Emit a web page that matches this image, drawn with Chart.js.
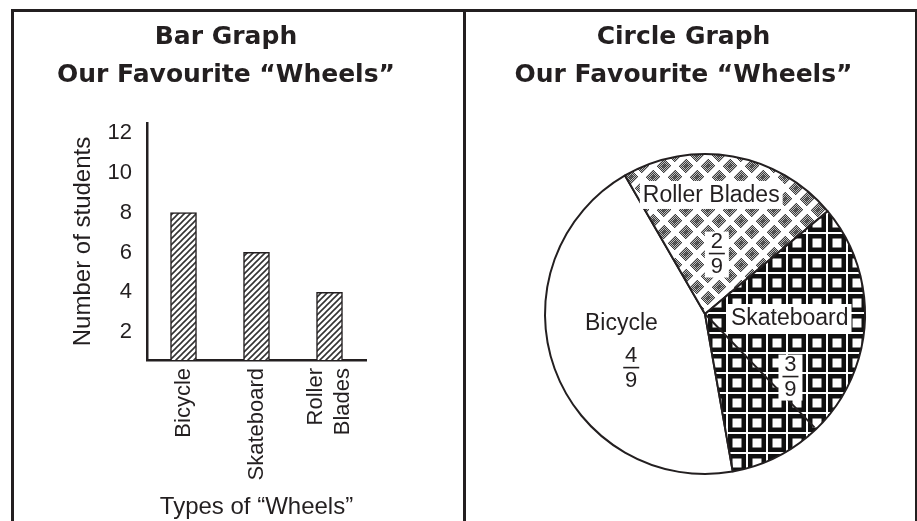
<!DOCTYPE html>
<html><head><meta charset="utf-8">
<script src="https://cdn.jsdelivr.net/npm/chart.js@4.4.1/dist/chart.umd.min.js"></script>
<style>
html,body{margin:0;padding:0;background:#fff;width:917px;height:521px;overflow:hidden;}
#frame{position:absolute;left:11px;top:9px;width:901px;height:520px;border-left:3px solid #231f20;border-top:3px solid #231f20;border-right:2px solid #231f20;}
#divider{position:absolute;left:463px;top:9px;width:3px;height:512px;background:#231f20;}
#left{position:absolute;left:14px;top:12px;}
#right{position:absolute;left:466px;top:12px;}
</style></head>
<body>
<div id="frame"></div>
<div id="divider"></div>
<canvas id="left" width="449" height="509"></canvas>
<canvas id="right" width="449" height="509"></canvas>
<script>
// ---- data ----
const categories = ['Bicycle', 'Skateboard', 'Roller Blades'];
const students = [8, 6, 4];
const yTicks = [2, 4, 6, 8, 10, 12];
const pieCategories = ['Bicycle', 'Roller Blades', 'Skateboard'];
const pieValues = [4, 2, 3];
const barTitle = ['Bar Graph', 'Our Favourite \u201CWheels\u201D'];
const pieTitle = ['Circle Graph', 'Our Favourite \u201CWheels\u201D'];
const xTitle = 'Types of \u201CWheels\u201D';
const yTitle = 'Number of students';

// ---- styles ----
const INK = '#231f20';
const SANS = '"Liberation Sans", Arial, Helvetica, sans-serif';
const TITLE_FONT = {family: '"DejaVu Sans", sans-serif', size: 25, weight: 'bold', lineHeight: 38/25};

function hatchPattern(){
  const c = document.createElement('canvas'); c.width = 6; c.height = 6;
  const g = c.getContext('2d');
  g.fillStyle = '#fff'; g.fillRect(0,0,6,6);
  g.strokeStyle = '#333'; g.lineWidth = 1.6;
  g.beginPath();
  g.moveTo(-3,9); g.lineTo(9,-3);
  g.moveTo(-3,3); g.lineTo(3,-3);
  g.moveTo(3,9); g.lineTo(9,3);
  g.stroke();
  return g.createPattern(c, 'repeat');
}
function gridPattern(){
  const s = 20;
  const c = document.createElement('canvas'); c.width = s; c.height = s;
  const g = c.getContext('2d');
  g.fillStyle = '#fff'; g.fillRect(0,0,s,s);
  g.fillStyle = '#111'; g.fillRect(2,2,18,18);
  g.fillStyle = '#fff'; g.fillRect(6.5,6.5,9,9);
  return g.createPattern(c, 'repeat');
}
function diamondPattern(){
  const s = 22;
  const c = document.createElement('canvas'); c.width = s; c.height = s;
  const g = c.getContext('2d');
  const img = g.createImageData(s, s);
  const centers = [[11,11],[0,0],[22,0],[0,22],[22,22]];
  for (let y = 0; y < s; y++) for (let x = 0; x < s; x++) {
    let d = 99;
    centers.forEach(([cx,cy]) => { d = Math.min(d, Math.abs(x+0.5-cx) + Math.abs(y+0.5-cy)); });
    let v = 255;
    if (d <= 7) v = ((x + y) % 2) ? 60 : (d < 2.5 ? 110 : 190);
    const i = (y*s + x)*4;
    img.data[i] = v; img.data[i+1] = v; img.data[i+2] = v; img.data[i+3] = 255;
  }
  g.putImageData(img, 0, 0);
  return g.createPattern(c, 'repeat');
}

// centre multi-line rotated tick labels on their tick
const centerMultiline = {
  id: 'centerMultiline',
  beforeDraw(chart){
    const s = chart.scales.x;
    s.getLabelItems().forEach(it => {
      if (Array.isArray(it.label) && it.label.length > 1 && !it._shifted) {
        it.options.translation[0] -= it.font.lineHeight * (it.label.length - 1) / 2;
        it._shifted = true;
      }
    });
  }
};

// ---- bar chart ----
new Chart(document.getElementById('left'), {
  type: 'bar',
  data: {
    labels: categories,
    datasets: [{
      data: students,
      backgroundColor: hatchPattern(),
      borderColor: INK,
      borderWidth: 1.5,
      borderSkipped: false,
      barThickness: 26
    }]
  },
  options: {
    responsive: false,
    animation: false,
    devicePixelRatio: 1,
    layout: {padding: {left: 0, right: 25, top: 0, bottom: 0}},
    plugins: {
      legend: {display: false},
      tooltip: {enabled: false},
      title: {display: true, text: barTitle, color: INK, font: TITLE_FONT, padding: {top: 6, bottom: 29}}
    },
    scales: {
      x: {
        grid: {display: false, drawTicks: false},
        border: {display: true, color: INK, width: 2.5},
        ticks: {
          color: INK, font: {family: SANS, size: 22}, minRotation: 90, maxRotation: 90, padding: 8, autoSkip: false,
          callback(v){ const l = this.getLabelForValue(v); return l.includes(' ') ? l.split(' ') : l; }
        },
        title: {display: true, text: xTitle, color: INK, font: {family: SANS, size: 24, lineHeight: 1}, padding: {top: 0, bottom: 2}},
        afterFit(s){ s.height = 161; }
      },
      y: {
        min: 0.6, max: 12.5,
        grid: {display: false, drawTicks: false},
        border: {display: true, color: INK, width: 2.5},
        ticks: {color: INK, font: {family: SANS, size: 22}, padding: 15},
        afterBuildTicks(s){ s.ticks = yTicks.map(v => ({value: v})); },
        title: {display: true, text: yTitle, color: INK, font: {family: SANS, size: 24, lineHeight: 1}, padding: {top: 57, bottom: 0}},
        afterFit(s){ s.width = 133; }
      },
      yR: {
        type: 'linear', position: 'right', display: true,
        grid: {display: false, drawTicks: false}, border: {display: false}, ticks: {display: false},
        afterFit(s){ s.width = 72; }
      }
    }
  },
  plugins: [centerMultiline]
});

// ---- pie chart ----
const piePlacement = {
  'Bicycle':       {name: [264, 0.525], frac: [234, 0.57], box: false},
  'Roller Blades': {name: [3, 0.745],   frac: [11.1, 0.385], box: true},
  'Skateboard':    {name: [92.7, 0.53], frac: [126.2, 0.662], box: true, leader: 136}
};
const pieLabelPlugin = {
  id: 'pieLabels',
  afterDatasetsDraw(chart){
    const ctx = chart.ctx;
    const arcs = chart.getDatasetMeta(0).data;
    const cx = arcs[0].x, cy = arcs[0].y, R = arcs[0].outerRadius;
    const total = pieValues.reduce((a,b) => a + b, 0);
    const pt = (deg, f) => [cx + R*f*Math.sin(deg*Math.PI/180), cy - R*f*Math.cos(deg*Math.PI/180)];
    ctx.save();
    pieCategories.forEach(cat => {
      const p = piePlacement[cat];
      if (p.leader !== undefined) {
        const [ex, ey] = pt(p.leader, 0.985);
        ctx.strokeStyle = INK; ctx.lineWidth = 2;
        ctx.beginPath(); ctx.moveTo(cx, cy); ctx.lineTo(ex, ey); ctx.stroke();
      }
    });
    ctx.textAlign = 'center'; ctx.textBaseline = 'middle';
    pieCategories.forEach((cat, i) => {
      const p = piePlacement[cat];
      ctx.font = '23px ' + SANS;
      const [nx, ny] = pt(p.name[0], p.name[1]);
      if (p.box) {
        const w = ctx.measureText(cat).width + 6;
        ctx.fillStyle = '#fff'; ctx.fillRect(nx - w/2, ny - 14, w, 28);
      }
      ctx.fillStyle = INK; ctx.fillText(cat, nx, ny + 1);
      const [fx, fy] = pt(p.frac[0], p.frac[1]);
      if (p.box) { ctx.fillStyle = '#fff'; ctx.fillRect(fx - 12, fy - 22, 24, 46); }
      ctx.font = '22px ' + SANS;
      ctx.fillStyle = INK;
      ctx.fillText(String(pieValues[i]), fx, fy - 12);
      ctx.fillText(String(total), fx, fy + 13);
      ctx.strokeStyle = INK; ctx.lineWidth = 1.6;
      ctx.beginPath(); ctx.moveTo(fx - 8, fy); ctx.lineTo(fx + 8, fy); ctx.stroke();
    });
    ctx.restore();
  }
};

new Chart(document.getElementById('right'), {
  type: 'pie',
  data: {
    labels: pieCategories,
    datasets: [{
      data: pieValues,
      backgroundColor: ['#ffffff', diamondPattern(), gridPattern()],
      borderColor: INK,
      borderWidth: 2
    }]
  },
  options: {
    responsive: false,
    animation: false,
    devicePixelRatio: 1,
    rotation: 170,
    layout: {padding: {left: 0, right: 14, top: 0, bottom: 46}},
    plugins: {
      legend: {display: false},
      tooltip: {enabled: false},
      title: {display: true, text: pieTitle, color: INK, font: TITLE_FONT, padding: {top: 6, bottom: 59}}
    },
    scales: {
      pad: {
        type: 'linear', position: 'left', display: true,
        grid: {display: false, drawTicks: false}, border: {display: false}, ticks: {display: false},
        afterFit(s){ s.width = 43; }
      }
    }
  },
  plugins: [pieLabelPlugin]
});
</script>
</body></html>
